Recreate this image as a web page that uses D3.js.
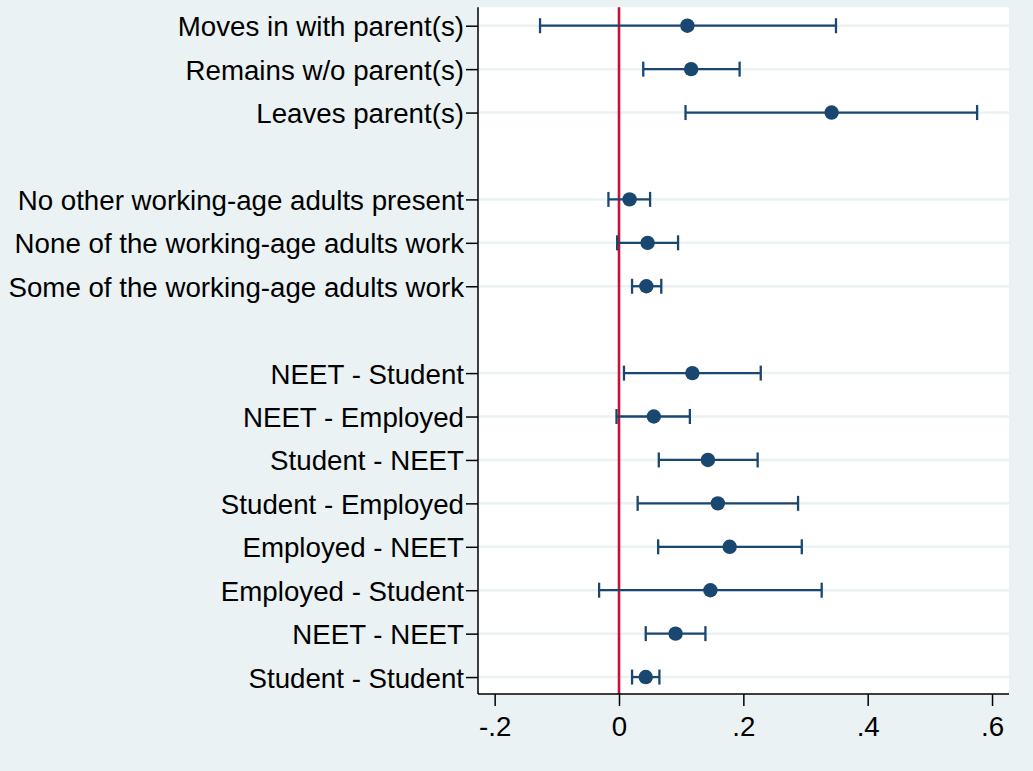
<!DOCTYPE html>
<html>
<head>
<meta charset="utf-8">
<script src="https://cdn.jsdelivr.net/npm/d3@7"></script>
<style>
  html, body { margin: 0; padding: 0; background: #EAF2F3; }
  svg { display: block; }
  text { font-family: "Liberation Sans", Arial, sans-serif; }
</style>
</head>
<body>
<svg id="chart" width="1033" height="771"></svg>
<script>
// Rows of the coefficient plot; null marks an empty spacer row between groups.
const categories = [
  "Moves in with parent(s)",
  "Remains w/o parent(s)",
  "Leaves parent(s)",
  null,
  "No other working-age adults present",
  "None of the working-age adults work",
  "Some of the working-age adults work",
  null,
  "NEET - Student",
  "NEET - Employed",
  "Student - NEET",
  "Student - Employed",
  "Employed - NEET",
  "Employed - Student",
  "NEET - NEET",
  "Student - Student"
];

// Point estimates and confidence bounds per row
const estimates = [0.110, 0.116, 0.342, null, 0.017, 0.046, 0.044, null,
                   0.118, 0.056, 0.143, 0.159, 0.178, 0.147, 0.091, 0.043];
const ciLow     = [-0.127, 0.039, 0.107, null, -0.017, -0.003, 0.021, null,
                   0.008, -0.004, 0.064, 0.030, 0.063, -0.032, 0.043, 0.021];
const ciHigh    = [0.349, 0.194, 0.576, null, 0.050, 0.095, 0.068, null,
                   0.228, 0.114, 0.223, 0.288, 0.294, 0.326, 0.139, 0.065];

const xTicks = [-0.2, 0, 0.2, 0.4, 0.6];
const xTickLabels = ["-.2", "0", ".2", ".4", ".6"];

const svg = d3.select("#chart");
const W = 1033, H = 771;
const plot = { left: 478, right: 1009, top: 7.3, bottom: 694 };

const x = d3.scaleLinear().domain([-0.2268, 0.6273]).range([plot.left, plot.right]);
const y = d3.scaleLinear().domain([-0.424, 15.39]).range([plot.top, plot.bottom]);

const navy = "#1A476F";
const fontSize = 27.7;
const rows = categories.map((c, i) => ({ label: c, i, b: estimates[i], lo: ciLow[i], hi: ciHigh[i] }))
  .filter(d => d.label !== null);

// graph background
svg.append("rect").attr("width", W).attr("height", H).attr("fill", "#EAF2F3");
// plot region
svg.append("rect")
  .attr("x", plot.left).attr("y", plot.top)
  .attr("width", plot.right - plot.left).attr("height", plot.bottom - plot.top)
  .attr("fill", "#FFFFFF");

// horizontal grid lines at each labelled row
svg.append("g").selectAll("line").data(rows).join("line")
  .attr("x1", plot.left).attr("x2", plot.right)
  .attr("y1", d => y(d.i)).attr("y2", d => y(d.i))
  .attr("stroke", "#EAF2F3").attr("stroke-width", 2.5);

// reference line at zero
svg.append("line")
  .attr("x1", x(0)).attr("x2", x(0))
  .attr("y1", plot.top).attr("y2", plot.bottom)
  .attr("stroke", "#C8103C").attr("stroke-width", 2.6);

// confidence intervals with caps
const ci = svg.append("g").attr("stroke", navy).attr("stroke-width", 2.3);
ci.selectAll("line.span").data(rows).join("line").attr("class", "span")
  .attr("x1", d => x(d.lo)).attr("x2", d => x(d.hi))
  .attr("y1", d => y(d.i)).attr("y2", d => y(d.i));
ci.selectAll("line.capl").data(rows).join("line").attr("class", "capl")
  .attr("x1", d => x(d.lo)).attr("x2", d => x(d.lo))
  .attr("y1", d => y(d.i) - 7.5).attr("y2", d => y(d.i) + 7.5);
ci.selectAll("line.caph").data(rows).join("line").attr("class", "caph")
  .attr("x1", d => x(d.hi)).attr("x2", d => x(d.hi))
  .attr("y1", d => y(d.i) - 7.5).attr("y2", d => y(d.i) + 7.5);

// point estimates
svg.append("g").selectAll("circle").data(rows).join("circle")
  .attr("cx", d => x(d.b)).attr("cy", d => y(d.i)).attr("r", 7.2)
  .attr("fill", navy);

// left axis with category labels
const yAxis = d3.axisLeft(y)
  .tickValues(rows.map(d => d.i))
  .tickFormat(i => categories[i])
  .tickSize(12).tickPadding(2);
const gy = svg.append("g").attr("transform", `translate(${plot.left},0)`).call(yAxis);
gy.select(".domain").attr("d", `M0,${plot.top}V${plot.bottom}`).attr("stroke", "#000").attr("stroke-width", 1.5);
gy.selectAll(".tick line").attr("stroke", "#000").attr("stroke-width", 1.5);
gy.selectAll(".tick text").attr("font-size", fontSize).attr("fill", "#000")
  .attr("font-family", "'Liberation Sans', Arial, sans-serif")
  .attr("dy", "0.36em");

// bottom axis
const xAxis = d3.axisBottom(x)
  .tickValues(xTicks)
  .tickFormat((v, k) => xTickLabels[k])
  .tickSize(12).tickPadding(10);
const gx = svg.append("g").attr("transform", `translate(0,${plot.bottom})`).call(xAxis);
gx.select(".domain").attr("d", `M${plot.left},0H${plot.right}`).attr("stroke", "#000").attr("stroke-width", 1.5);
gx.selectAll(".tick line").attr("stroke", "#000").attr("stroke-width", 1.5);
gx.selectAll(".tick text").attr("font-size", fontSize).attr("fill", "#000")
  .attr("font-family", "'Liberation Sans', Arial, sans-serif");
</script>
</body>
</html>
